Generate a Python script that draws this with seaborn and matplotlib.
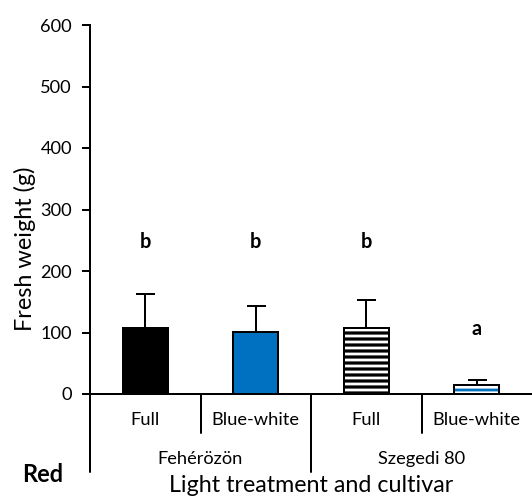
import matplotlib
matplotlib.use("Agg")
import matplotlib.pyplot as plt
import matplotlib.transforms as mtransforms
import numpy as np
import pandas as pd
import seaborn as sns

# Fresh weight per light treatment and cultivar (red light series)
treatments = ["Full", "Blue-white", "Full", "Blue-white"]
cultivars = ["Fehérözön", "Fehérözön", "Szegedi 80", "Szegedi 80"]
fresh_weight = [108, 101, 107, 15]
sd = [54, 42, 46, 8]
letters = ["b", "b", "b", "a"]
letter_height = [237, 237, 237, 96]
yticks = [0, 100, 200, 300, 400, 500, 600]

BLUE = "#0070C0"

sns.set_theme(style="white")
plt.rcParams["font.family"] = ["Lato", "DejaVu Sans"]
plt.rcParams["hatch.linewidth"] = 3.2

fig = plt.figure(figsize=(532 / 72, 499 / 72), dpi=72)
ax = fig.add_axes([90 / 532, 105 / 499, 442 / 532, 369 / 499])

df = pd.DataFrame({
    "slot": [f"{c} {t}" for c, t in zip(cultivars, treatments)],
    "fw": fresh_weight,
})
sns.barplot(data=df, x="slot", y="fw", hue="slot",
            palette=["black", BLUE, "white", BLUE], legend=False,
            width=0.41, edgecolor="black", linewidth=2, errorbar=None,
            saturation=1, ax=ax)

bars = sorted(ax.patches, key=lambda p: p.get_x())
# striped bar for Szegedi 80 / Full
bars[2].set_facecolor("white")
bars[2].set_hatch("--")
bars[2].set_edgecolor("black")
# blue/white striped bar for Szegedi 80 / Blue-white
bars[3].set_facecolor(BLUE)
bars[3].set_edgecolor("white")
bars[3].set_hatch("--")
bars[3].set_linewidth(0)
ax.bar([3], [fresh_weight[3]], width=0.41, fill=False, edgecolor="black",
       linewidth=2, zorder=3)

x = np.arange(len(fresh_weight))
ax.errorbar(x, fresh_weight, yerr=[np.zeros(len(sd)), sd], fmt="none",
            ecolor="black", elinewidth=2, capsize=9.5, capthick=2, zorder=4)

for xi, lab, h in zip(x, letters, letter_height):
    ax.text(xi, h, lab, ha="center", va="baseline", fontsize=20,
            fontweight="bold", color="black")

ax.set_xlim(-0.5, 3.5)
ax.set_ylim(0, 600)
ax.set_yticks(yticks)
ax.set_xticks(x, treatments)
ax.set_xlabel("")
ax.set_ylabel("")

for side in ("top", "right"):
    ax.spines[side].set_visible(False)
for side in ("left", "bottom"):
    ax.spines[side].set_color("black")
    ax.spines[side].set_linewidth(2)

ax.tick_params(axis="y", left=True, direction="out", length=8, width=2,
               color="black", labelsize=18.3, labelcolor="black", pad=10)
ax.tick_params(axis="x", bottom=False, length=0, labelsize=18.3,
               labelcolor="black", pad=18)

# category / cultivar dividers below the axis
trans = mtransforms.blended_transform_factory(ax.transData, ax.transAxes)
for xb in (0.5, 2.5):
    ax.plot([xb, xb], [0, -39 / 369], color="black", lw=2,
            transform=trans, clip_on=False)
for xb in (-0.5, 1.5):
    ax.plot([xb, xb], [0, -78 / 369], color="black", lw=2,
            transform=trans, clip_on=False)

for xc, name in ((0.5, cultivars[0]), (2.5, cultivars[2])):
    ax.text(xc, -65 / 369, name, transform=trans, ha="center", va="center",
            fontsize=18.3, color="black")

fig.text(311 / 532, 1 - 492 / 499, "Light treatment and cultivar",
         ha="center", va="baseline", fontsize=23.3, color="black")
fig.text(25 / 532, 1 - 248.5 / 499, "Fresh weight (g)", rotation=90,
         ha="center", va="center", fontsize=23.5, color="black")
fig.text(22 / 532, 1 - 482 / 499, "Red", ha="left", va="baseline",
         fontsize=23.5, fontweight="bold", color="black")

fig.savefig("out.png", dpi=72, facecolor="white")
